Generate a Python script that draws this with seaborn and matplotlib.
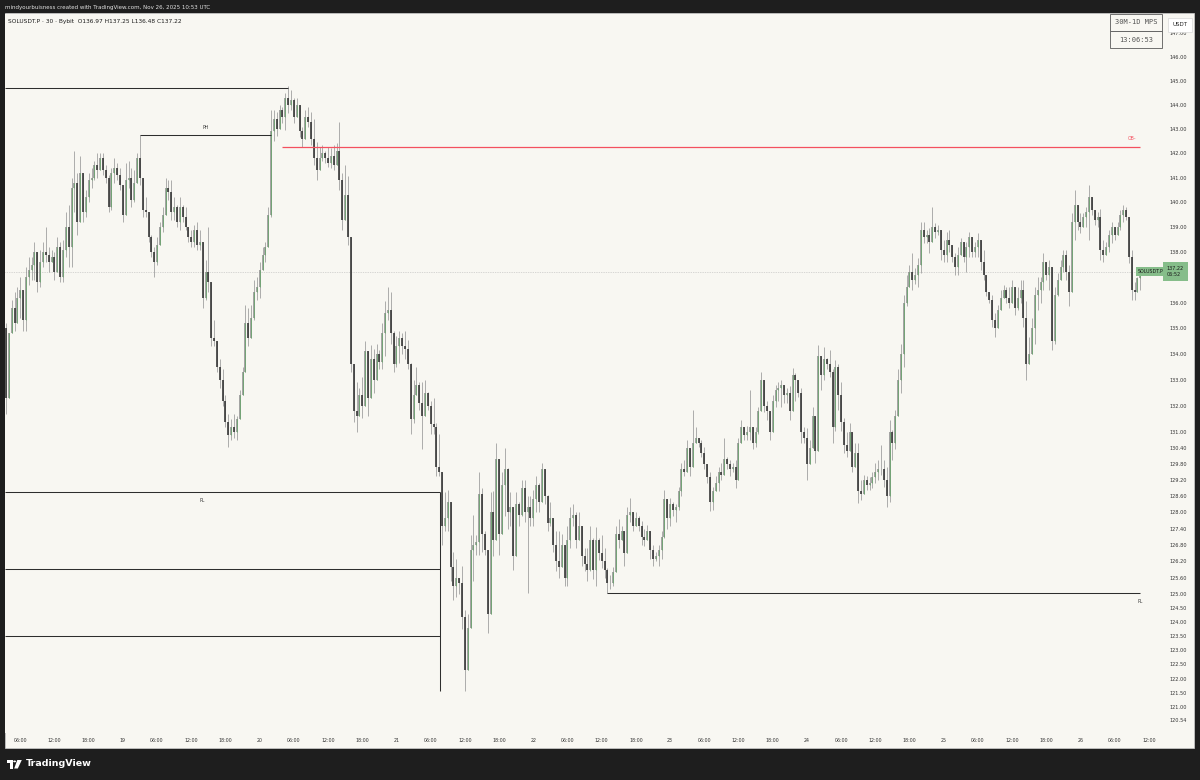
import numpy as np
import pandas as pd
import matplotlib
matplotlib.use("Agg")
import matplotlib.pyplot as plt
import matplotlib.transforms as mtransforms
from matplotlib.patches import Rectangle, Polygon, Circle
from matplotlib.ticker import FixedLocator, FixedFormatter, NullLocator
import seaborn as sns

# ---------------- data (SOLUSDT.P, 30m, Bybit) ----------------
START = "2025-11-18 03:30"
FIRST_OPEN = 135.0
LAST_PRICE = 137.22

highs = [
    135.2, 134.7, 136.1, 136.4, 136.6, 137.0, 136.0, 137.4, 137.8, 137.8,
    138.4, 137.8, 138.1, 138.4, 139.0, 138.2, 138.1, 138.0, 138.6, 138.4,
    138.5, 139.6, 139.9, 141.0, 142.1, 141.2, 141.9, 141.1, 140.5, 141.2,
    141.4, 141.7, 142.0, 142.0, 142.0, 141.5, 141.1, 141.4, 141.8, 141.6,
    141.4, 140.6, 141.6, 141.7, 141.4, 141.3, 142.0, 142.75, 140.7, 140.2,
    139.6, 138.7, 138.2, 138.6, 139.2, 139.8, 141.0, 140.9, 140.9, 140.2,
    139.9, 140.2, 139.9, 139.8, 139.0, 138.9, 139.1, 139.2, 138.9, 138.3,
    137.7, 139.0, 136.4, 135.3, 134.4, 133.8, 133.4, 132.4, 131.7, 131.5,
    131.7, 131.6, 132.6, 133.5, 135.9, 135.8, 135.9, 136.9, 137.0, 137.6,
    138.2, 138.4, 139.8, 143.8, 143.8, 143.7, 144.0, 143.9, 144.5, 144.8,
    144.6, 144.3, 144.3, 143.9, 143.1, 143.8, 143.9, 143.7, 143.4, 142.45,
    142.25, 142.35, 142.1, 142.25, 142.2, 142.35, 142.4, 143.3, 141.2, 141.5,
    141.05, 138.6, 133.3, 132.9, 132.7, 133.1, 134.5, 133.95, 134.35, 134.2,
    134.4, 134.15, 135.2, 136.05, 136.6, 136.4, 134.9, 134.7, 134.9, 134.8,
    134.9, 134.55, 133.65, 133.0, 133.5, 132.9, 132.9, 133.0, 132.55, 132.2,
    132.3, 131.35, 130.95, 129.3, 128.75, 128.85, 127.65, 126.55, 126.3, 125.6,
    126.05, 124.45, 124.3, 127.15, 127.9, 127.15, 129.5, 128.9, 127.3, 125.9,
    128.75, 128.8, 130.6, 129.35, 129.5, 130.4, 129.65, 128.75, 128.0, 128.75,
    128.4, 129.2, 129.2, 128.6, 128.6, 128.85, 129.35, 129.1, 129.85, 129.5,
    128.65, 128.4, 127.65, 127.3, 127.3, 127.2, 126.3, 127.5, 128.2, 128.3,
    128.0, 128.0, 127.3, 126.7, 126.7, 127.5, 127.05, 127.45, 127.05, 127.15,
    126.7, 125.95, 125.7, 126.0, 127.5, 127.75, 127.5, 127.3, 128.2, 128.55,
    128.0, 128.0, 127.85, 127.7, 127.4, 127.55, 127.3, 126.8, 126.55, 126.8,
    127.3, 128.85, 128.4, 128.55, 128.4, 128.3, 128.95, 129.85, 129.95, 130.7,
    129.95, 131.85, 131.2, 130.8, 130.7, 130.45, 129.8, 129.5, 128.95, 129.35,
    129.7, 129.85, 130.8, 130.05, 129.95, 129.85, 129.95, 130.8, 131.45, 131.1,
    131.25, 132.6, 131.1, 131.2, 131.95, 133.3, 132.75, 132.2, 131.75, 132.4,
    132.8, 132.9, 133.0, 132.75, 132.7, 132.75, 133.45, 133.25, 132.8, 132.7,
    131.2, 131.15, 130.7, 131.95, 131.2, 134.35, 133.4, 134.25, 133.85, 134.15,
    133.4, 133.75, 133.6, 132.9, 131.55, 131.0, 131.35, 130.25, 130.6, 130.6,
    129.2, 129.4, 129.35, 129.3, 129.5, 129.85, 129.95, 130.5, 129.95, 129.7,
    131.45, 131.1, 131.85, 133.4, 134.4, 136.3, 137.1, 137.5, 137.95, 137.35,
    137.75, 139.2, 139.2, 138.9, 138.95, 139.8, 139.15, 139.1, 138.9, 138.5,
    138.8, 138.9, 138.3, 137.95, 138.2, 138.55, 138.35, 138.4, 138.8, 138.5,
    138.4, 138.75, 138.15, 138.1, 137.1, 136.4, 136.3, 135.6, 135.9, 136.5,
    136.7, 136.6, 136.6, 136.9, 136.5, 136.6, 136.9, 136.9, 136.05, 134.65,
    135.4, 136.6, 137.0, 137.0, 137.95, 137.35, 137.7, 136.6, 136.6, 137.15,
    137.7, 138.1, 138.1, 137.5, 139.55, 140.5, 139.55, 139.55, 139.55, 139.8,
    140.7, 139.9, 139.55, 139.6, 139.75, 138.5, 138.4, 138.9, 139.2, 138.95,
    139.2, 139.7, 139.9, 139.8, 138.7, 138.1, 136.8, 137.0, 137.25,
]

lows = [
    131.7, 132.5, 134.9, 134.9, 135.4, 135.4, 134.9, 134.9, 136.7, 136.9,
    136.9, 136.4, 136.6, 137.4, 137.6, 137.2, 137.6, 136.9, 137.2, 136.8,
    136.8, 137.8, 137.4, 137.4, 139.6, 138.7, 139.7, 139.2, 139.4, 140.0,
    140.6, 140.9, 141.0, 141.3, 141.1, 140.8, 139.6, 139.7, 140.8, 140.9,
    140.5, 139.2, 139.8, 140.6, 139.8, 140.0, 141.1, 140.7, 139.4, 139.4,
    138.4, 137.8, 137.0, 137.5, 138.3, 138.8, 139.6, 140.1, 139.3, 139.3,
    139.0, 138.9, 139.2, 138.9, 138.4, 138.2, 138.2, 138.1, 138.1, 135.8,
    136.1, 136.4, 134.3, 134.3, 133.3, 132.7, 132.0, 131.2, 130.45, 130.7,
    130.8, 130.7, 131.6, 132.5, 133.4, 134.3, 134.9, 135.3, 136.1, 136.2,
    137.4, 137.6, 138.2, 139.4, 142.5, 142.7, 143.1, 143.25, 142.95, 143.65,
    143.8, 143.25, 143.65, 142.65, 142.25, 142.9, 143.1, 142.35, 141.5, 140.9,
    141.6, 141.7, 141.6, 141.45, 141.4, 141.3, 141.6, 140.5, 138.9, 140.0,
    138.3, 133.3, 131.4, 131.0, 131.9, 131.55, 132.5, 131.6, 132.35, 132.5,
    133.3, 133.4, 133.4, 133.9, 135.3, 134.4, 133.3, 133.5, 133.65, 134.0,
    133.8, 133.4, 130.95, 131.35, 132.4, 131.85, 130.35, 132.2, 131.85, 130.95,
    130.95, 129.35, 129.35, 126.8, 127.3, 127.3, 125.5, 124.8, 124.9, 125.0,
    123.75, 121.55, 122.3, 125.55, 125.5, 126.45, 126.45, 126.55, 126.45, 123.6,
    124.65, 126.4, 128.85, 126.45, 127.85, 127.85, 127.4, 127.5, 125.9, 126.8,
    127.5, 127.85, 127.65, 125.05, 127.5, 127.5, 128.0, 128.0, 128.85, 128.3,
    127.3, 127.5, 126.55, 125.85, 125.6, 126.05, 125.3, 125.3, 126.7, 127.5,
    126.7, 127.15, 126.05, 125.85, 125.5, 125.85, 125.55, 125.3, 126.25, 125.95,
    125.6, 125.05, 125.2, 125.3, 126.05, 126.7, 127.05, 126.05, 126.8, 127.65,
    127.3, 127.5, 127.3, 126.8, 126.75, 127.05, 126.3, 126.05, 126.2, 126.05,
    126.3, 127.05, 127.4, 127.5, 127.85, 127.65, 128.1, 128.6, 129.35, 129.85,
    129.35, 129.85, 130.6, 130.45, 130.05, 129.6, 129.1, 128.05, 128.1, 128.8,
    128.8, 129.2, 129.7, 129.6, 129.35, 129.5, 128.9, 129.85, 130.6, 130.7,
    130.7, 130.7, 130.35, 130.45, 130.95, 131.85, 131.75, 131.45, 130.7, 131.6,
    131.95, 132.2, 131.95, 132.1, 132.1, 131.45, 132.75, 132.2, 132.35, 130.6,
    130.6, 129.2, 130.05, 130.6, 129.85, 131.6, 132.6, 133.0, 133.4, 133.1,
    130.6, 131.05, 131.85, 131.05, 130.2, 130.05, 130.45, 129.5, 129.85, 128.35,
    128.45, 128.75, 128.85, 128.85, 128.9, 129.1, 129.2, 129.4, 128.95, 128.2,
    128.4, 129.95, 130.35, 131.75, 132.5, 133.5, 135.85, 136.7, 136.5, 136.75,
    136.6, 137.15, 138.35, 138.35, 137.95, 138.7, 138.55, 138.7, 137.7, 137.6,
    137.6, 138.0, 137.6, 137.1, 137.1, 137.95, 137.6, 137.2, 137.8, 137.8,
    137.8, 137.8, 137.3, 136.9, 136.25, 136.0, 135.05, 134.65, 135.05, 135.8,
    136.3, 136.0, 135.8, 136.0, 135.5, 135.7, 136.0, 135.05, 133.0, 133.75,
    134.15, 134.4, 135.7, 136.0, 136.5, 136.9, 136.5, 134.15, 134.4, 136.25,
    136.9, 137.2, 136.9, 135.85, 136.95, 138.5, 138.9, 138.75, 139.15, 139.0,
    138.5, 139.5, 139.1, 139.0, 137.7, 137.6, 137.95, 138.0, 138.35, 138.5,
    138.7, 138.9, 139.2, 139.3, 137.55, 136.1, 136.1, 136.55, 136.48,
]

closes = [
    132.3, 134.8, 135.8, 135.2, 136.2, 136.5, 135.3, 137.0, 137.3, 137.5,
    138.0, 136.8, 137.6, 138.0, 137.9, 137.6, 137.8, 137.2, 138.2, 137.0,
    138.1, 139.0, 138.2, 140.6, 140.8, 139.2, 141.2, 139.6, 140.2, 140.9,
    141.0, 141.5, 141.3, 141.8, 141.3, 141.0, 139.8, 141.2, 141.4, 141.1,
    140.7, 139.5, 140.9, 141.0, 140.1, 140.8, 141.8, 141.0, 139.7, 139.6,
    138.6, 138.0, 137.6, 138.3, 139.0, 139.5, 140.6, 140.4, 139.6, 139.8,
    139.2, 139.8, 139.4, 139.0, 138.6, 138.4, 138.9, 138.3, 138.4, 136.2,
    137.2, 136.8, 134.6, 134.5, 133.5, 133.0, 132.2, 131.4, 130.9, 131.2,
    131.0, 131.5, 132.4, 133.3, 135.2, 134.6, 135.4, 136.4, 136.6, 137.3,
    137.9, 138.2, 139.5, 142.9, 143.4, 143.0, 143.8, 143.5, 144.3, 144.0,
    144.2, 143.5, 144.0, 142.9, 142.6, 143.5, 143.3, 142.6, 141.8, 141.3,
    141.8, 142.0, 141.8, 141.6, 141.9, 141.5, 142.1, 140.9, 139.3, 140.3,
    138.6, 133.6, 131.8, 131.6, 132.4, 132.0, 134.1, 132.3, 133.8, 133.0,
    134.0, 133.7, 134.8, 135.6, 135.7, 134.8, 133.6, 134.3, 134.6, 134.3,
    134.2, 133.6, 131.5, 132.4, 132.8, 132.1, 131.6, 132.5, 132.0, 131.3,
    131.2, 129.7, 129.5, 127.5, 127.8, 128.4, 126.0, 125.3, 125.6, 125.4,
    124.2, 122.3, 123.8, 126.6, 126.8, 126.9, 128.7, 127.2, 126.6, 124.3,
    128.0, 127.0, 130.0, 127.2, 129.0, 129.6, 128.0, 128.2, 126.4, 128.3,
    127.9, 128.9, 128.0, 128.2, 127.8, 128.5, 129.0, 128.4, 129.6, 128.6,
    127.6, 127.8, 126.8, 126.2, 126.0, 126.8, 125.6, 127.0, 127.8, 127.9,
    127.0, 127.5, 126.4, 126.1, 125.9, 127.0, 125.9, 127.0, 126.5, 126.2,
    125.9, 125.4, 125.4, 125.8, 127.2, 127.0, 127.3, 126.5, 127.9, 128.0,
    127.5, 127.8, 127.5, 127.1, 127.0, 127.3, 126.6, 126.3, 126.4, 126.6,
    127.1, 128.5, 127.8, 128.3, 128.1, 128.2, 128.8, 129.6, 129.5, 130.4,
    129.7, 130.6, 130.8, 130.6, 130.2, 129.8, 129.3, 128.4, 128.8, 129.1,
    129.5, 129.4, 130.0, 129.8, 129.6, 129.7, 129.2, 130.6, 131.2, 130.9,
    131.0, 131.2, 130.6, 131.0, 131.8, 133.0, 132.0, 131.8, 131.0, 132.2,
    132.6, 132.7, 132.8, 132.4, 132.5, 131.8, 133.2, 133.0, 132.5, 131.0,
    130.8, 129.8, 130.4, 131.6, 130.3, 133.9, 133.2, 133.8, 133.6, 133.3,
    131.2, 133.5, 132.4, 131.4, 130.5, 130.3, 131.0, 129.7, 130.2, 128.8,
    128.7, 129.2, 129.0, 129.1, 129.3, 129.5, 129.6, 129.6, 129.2, 128.6,
    131.0, 130.6, 131.6, 133.0, 134.0, 136.0, 136.6, 137.2, 136.9, 137.1,
    137.5, 138.9, 138.6, 138.7, 138.4, 139.0, 138.8, 138.9, 138.1, 137.9,
    138.5, 138.3, 137.8, 137.4, 137.9, 138.4, 137.8, 138.2, 138.6, 138.0,
    138.2, 138.5, 137.6, 137.1, 136.4, 136.1, 135.3, 135.0, 135.7, 136.2,
    136.5, 136.2, 136.0, 136.6, 135.8, 136.2, 136.5, 135.4, 133.6, 134.0,
    135.0, 136.3, 136.5, 136.8, 137.6, 137.1, 137.4, 134.5, 136.3, 136.9,
    137.4, 137.9, 137.2, 136.4, 139.2, 139.9, 139.2, 139.0, 139.4, 139.6,
    140.2, 139.7, 139.3, 139.4, 138.1, 137.9, 138.2, 138.7, 139.0, 138.7,
    139.0, 139.5, 139.7, 139.4, 137.8, 136.5, 136.4, 136.97, 137.22,
]

price_ticks = [147.0, 146.0, 145.0, 144.0, 143.0, 142.0, 141.0, 140.0, 139.0,
               138.0, 136.0, 135.0, 134.0, 133.0, 132.0, 131.0, 130.4, 129.8,
               129.2, 128.6, 128.0, 127.4, 126.8, 126.2, 125.6, 125.0, 124.5,
               124.0, 123.5, 123.0, 122.5, 122.0, 121.5, 121.0, 120.54]

# drawn levels (price) and their anchor bars (bar index)
top_level, top_end = 144.7, 99
ph_level, ph_start, ph_end = 142.75, 47, 93
ob_level, ob_start, ob_end = 142.25, 97, 398
pl_left_levels = [128.74, 125.93, 123.52]
pl_left_end, pl_left_low = 152.3, 121.55
pl_right_level, pl_right_start, pl_right_end = 125.05, 211, 398

# ---------------- style ----------------
sns.set_theme(style="white")
plt.rcParams['font.family'] = ['DejaVu Sans']

DARK = '#1e1e1e'
PANEL = '#f8f7f2'
WICK = '#8f8f8f'
UPC = '#6aa86e'
DOWNC = '#2f2f2f'
LINEC = '#2e2e2e'
RED = '#f4505f'
GREEN_LBL = '#86bd8a'

W, H = 1200, 780
def fx(px): return px / W
def fy(py): return 1 - py / H

fig = plt.figure(figsize=(12, 7.8), dpi=100, facecolor=DARK)
fig.patches.append(Rectangle((fx(5), fy(748)), fx(1194) - fx(5), fy(13) - fy(748),
                             transform=fig.transFigure, fc=PANEL, ec='#cfcfcf',
                             lw=0.5, zorder=-10))

ax = fig.add_axes([fx(5), fy(733), fx(1164) - fx(5), fy(14) - fy(733)])
ax.set_zorder(1)
ax.set_facecolor(PANEL)

n = min(len(highs), len(lows), len(closes))
c = np.array(closes[:n])
o = np.concatenate([[FIRST_OPEN], c[:-1]])
hi = np.maximum(np.array(highs[:n]), np.maximum(o, c))
lo = np.minimum(np.array(lows[:n]), np.minimum(o, c))
x = np.arange(n)
t0 = pd.Timestamp(START)

df = pd.DataFrame({'x': x, 'open': o, 'high': hi, 'low': lo, 'close': c})
up = df['close'] >= df['open']

ax.vlines(df['x'], df['low'], df['high'], color=WICK, lw=0.5, zorder=3)
ax.vlines(df['x'][up], df['open'][up], df['close'][up], color=WICK, lw=1.15, zorder=4)
ax.vlines(df['x'][up], df['open'][up], df['close'][up], color=UPC, lw=0.55, zorder=5)
ax.vlines(df['x'][~up], df['close'][~up], df['open'][~up], color=DOWNC, lw=1.15, zorder=4)

XL, XR = -0.35, 406.3
ax.set_xlim(XL, XR)
ax.set_yscale('log')
ax.set_ylim(120.095, 147.83)

# last price dotted line
ax.axhline(LAST_PRICE, color='#b5b5b5', lw=0.5, ls=(0, (1, 1.5)), zorder=1)

# drawings
kw = dict(color=LINEC, lw=0.75, zorder=6, solid_capstyle='butt')
ax.plot([XL, top_end], [top_level, top_level], **kw)
ax.plot([ph_start, ph_end], [ph_level, ph_level], **kw)
ax.text((ph_start + ph_end) / 2, 143.08, 'PH', fontsize=3.3, color='#333333',
        ha='center', va='center', zorder=7)
ax.plot([ob_start, ob_end], [ob_level, ob_level], color=RED, lw=0.9, zorder=8,
        solid_capstyle='butt')
ax.text(ob_end - 3, 142.6, 'OB-', fontsize=3.3, color=RED, ha='center',
        va='center', zorder=8)
for lvl in pl_left_levels:
    ax.plot([XL, pl_left_end], [lvl, lvl], **kw)
ax.plot([pl_left_end, pl_left_end], [pl_left_levels[0], pl_left_low], **kw)
ax.text(69, 128.45, 'PL', fontsize=3.3, color='#333333', ha='center',
        va='center', zorder=7)
ax.plot([pl_right_start, pl_right_end], [pl_right_level, pl_right_level], **kw)
ax.text(pl_right_end, 124.76, 'PL', fontsize=3.3, color='#333333', ha='center',
        va='center', zorder=7)

# axes ticks
ax.yaxis.tick_right()
ax.yaxis.set_major_locator(FixedLocator(price_ticks))
ax.yaxis.set_major_formatter(FixedFormatter([f"{v:.2f}" for v in price_ticks]))
ax.yaxis.set_minor_locator(NullLocator())

tick_times = pd.date_range('2025-11-18 06:00', '2025-11-26 12:00', freq='6h')
tick_pos = [(tt - t0) / pd.Timedelta('30min') for tt in tick_times]
tick_lbl = [str(tt.day) if tt.hour == 0 else tt.strftime('%H:%M') for tt in tick_times]
ax.set_xticks(tick_pos)
ax.set_xticklabels(tick_lbl)
ax.tick_params(axis='y', length=0, pad=4.3, labelsize=3.6, labelcolor='#333333')
ax.tick_params(axis='x', length=0, pad=3.6, labelsize=3.4, labelcolor='#333333')
for s in ax.spines.values():
    s.set_visible(False)
ax.grid(False)

# last price labels
tr = mtransforms.blended_transform_factory(ax.transAxes, ax.transData)
ax.text(1.0025, LAST_PRICE, f"{LAST_PRICE:.2f}\n06:52", transform=tr, ha='left',
        va='center', fontsize=3.5, color='#1a1a1a', linespacing=1.3,
        bbox=dict(boxstyle='square,pad=0.75', fc=GREEN_LBL, ec='none'),
        zorder=10, clip_on=False)
ax.text(0.9995, LAST_PRICE, 'SOLUSDT.P', transform=tr, ha='right', va='center',
        fontsize=3.4, color='#1a1a1a',
        bbox=dict(boxstyle='square,pad=0.4', fc=GREEN_LBL, ec='none'),
        zorder=10, clip_on=False)

# header / footer texts
fig.text(fx(5), fy(7), "mindyourbuisness created with TradingView.com, Nov 26, 2025 10:53 UTC",
         color='#e2e2e2', fontsize=4.0, va='center', ha='left')
fig.text(fx(8), fy(22), "SOLUSDT.P \u00b7 30 \u00b7 Bybit  O136.97 H137.25 L136.48 C137.22",
         color='#1c1c1c', fontsize=4.2, va='center', ha='left', zorder=20)
fig.text(fx(1180), fy(25), 'USDT', color='#222222', fontsize=4.0, va='center', ha='center',
         zorder=20, bbox=dict(boxstyle='square,pad=0.8', fc='white', ec='#d8d8d8', lw=0.5))

# MPS table
for (y0, y1, label) in [(14, 31, '30M-1D MPS'), (31, 48, '13:06:53')]:
    fig.patches.append(Rectangle((fx(1110), fy(y1)), fx(1162) - fx(1110), fy(y0) - fy(y1),
                                 transform=fig.transFigure, fc=PANEL, ec='#5a5a5a', lw=0.6,
                                 zorder=15))
    fig.text(fx(1136), fy((y0 + y1) / 2), label, family='DejaVu Sans Mono', fontsize=5.0,
             color='#555555', ha='center', va='center', zorder=16)

# TradingView logo
fig.patches.append(Rectangle((fx(6.5), fy(762.5)), fx(6), fy(760) - fy(762.5),
                             transform=fig.transFigure, fc='white', ec='none'))
fig.patches.append(Rectangle((fx(9.5), fy(768.5)), fx(3), fy(760) - fy(768.5),
                             transform=fig.transFigure, fc='white', ec='none'))
fig.patches.append(Circle((fx(14.6), fy(761.4)), fx(1.4), transform=fig.transFigure,
                          fc='white', ec='none'))
fig.patches.append(Polygon([(fx(17.3), fy(760)), (fx(21.8), fy(760)), (fx(17.8), fy(768.5)),
                            (fx(14.2), fy(768.5))], closed=True, transform=fig.transFigure,
                           fc='white', ec='none'))
fig.text(fx(26), fy(764), 'TradingView', color='white', fontsize=6.8, fontweight='bold',
         va='center', ha='left')

fig.savefig('out.png', dpi=100, facecolor=DARK)
